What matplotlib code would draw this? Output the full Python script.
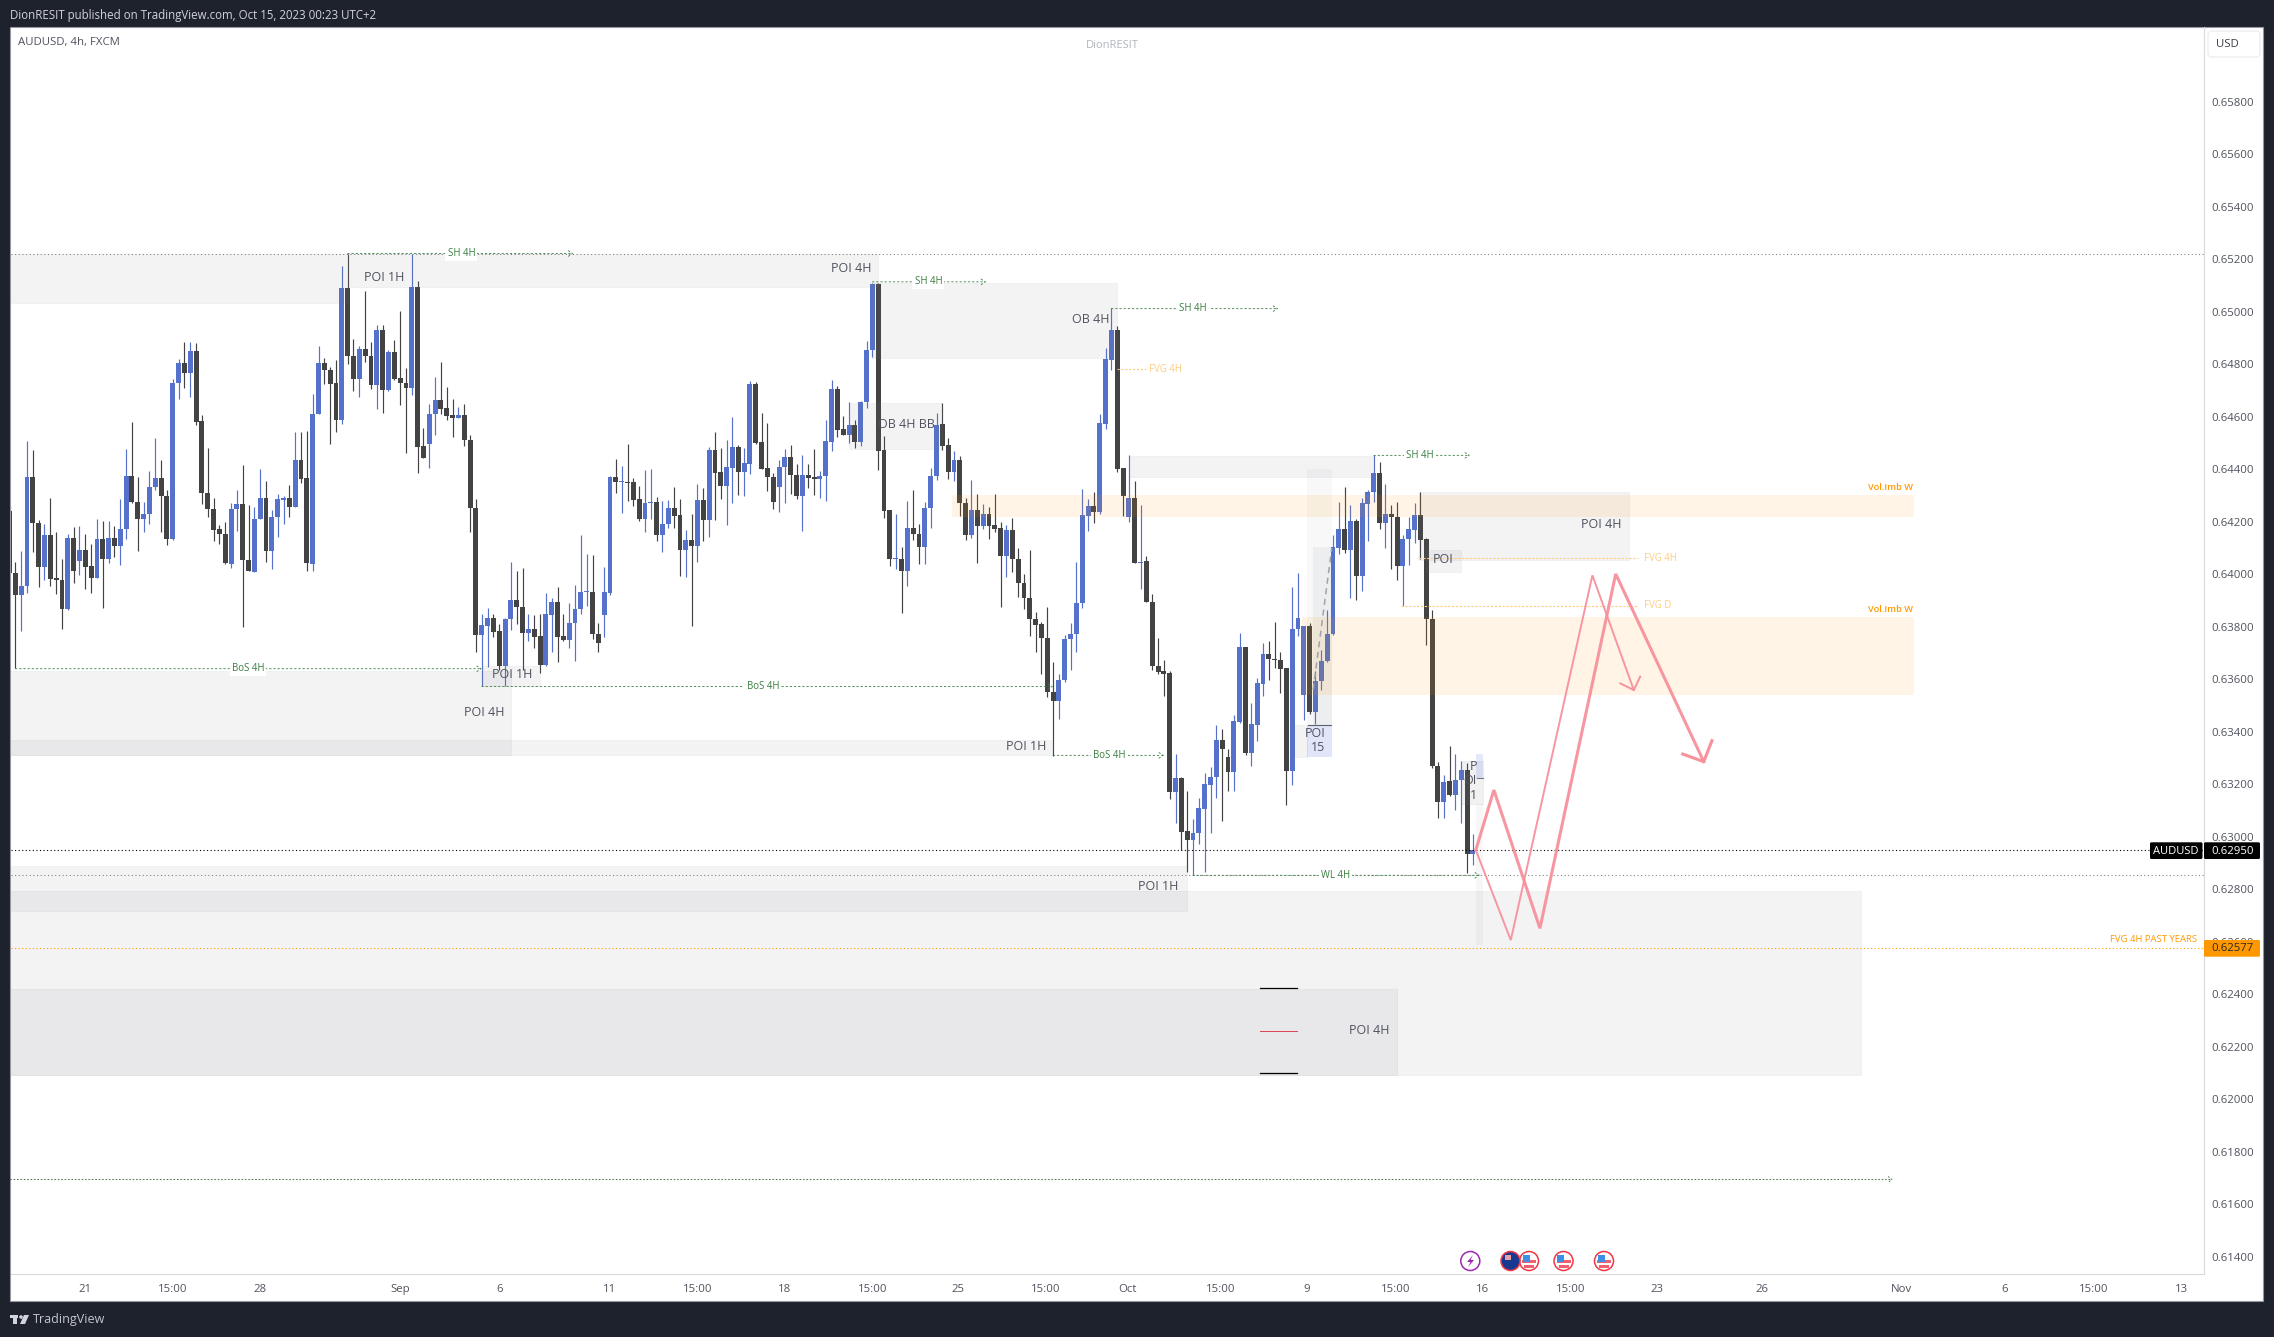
import numpy as np
import matplotlib
matplotlib.use("Agg")
import matplotlib.pyplot as plt
from matplotlib.patches import Rectangle, Circle, FancyBboxPatch, Polygon

# AUDUSD 4h candles, in points (1e-5)
opens = [
    64240, 64003, 63922, 63956, 64372, 64197, 64028, 64148, 63984, 63980,
    63868, 64140, 64051, 64094, 64030, 63986, 64136, 64059, 64140, 64108,
    64171, 64376, 64277, 64209, 64228, 64331, 64365, 64300, 64135, 64727,
    64803, 64767, 64849, 64582, 64308, 64247, 64171, 64155, 64040, 64247,
    64266, 64056, 64009, 64212, 64292, 64089, 64220, 64284, 64290, 64257,
    64437, 64365, 64040, 64611, 64803, 64780, 64727, 64588, 65089, 64833,
    64745, 64860, 64830, 64722, 64929, 64703, 64845, 64746, 64727, 64710,
    65096, 64487, 64497, 64611, 64662, 64632, 64605, 64596, 64605, 64513,
    64254, 63769, 63804, 63835, 63782, 63652, 63830, 63900, 63877, 63777,
    63793, 63763, 63655, 63845, 63896, 63763, 63750, 63815, 63866, 63933,
    63934, 63774, 63845, 63929, 64369, 64351, 64353, 64350, 64285, 64211,
    64272, 64277, 64150, 64192, 64254, 64224, 64093, 64129, 64108, 64281,
    64207, 64472, 64388, 64337, 64405, 64483, 64390, 64421, 64724, 64502,
    64403, 64372, 64333, 64407, 64445, 64380, 64299, 64380, 64369, 64362,
    64375, 64505, 64704, 64552, 64531, 64567, 64503, 64657, 64855, 65104,
    64472, 64243, 64058, 64060, 64013, 64178, 64155, 64104, 64253, 64375,
    64571, 64491, 64390, 64437, 64273, 64148, 64244, 64183, 64231, 64187,
    64176, 64070, 64169, 64059, 63965, 63911, 63828, 63809, 63759, 63550,
    63518, 63599, 63754, 63773, 63889, 64223, 64261, 64238, 64574, 64818,
    64931, 64403, 64219, 64292, 64044, 64049, 63896, 63652, 63630, 63622,
    63171, 63223, 63020, 62988, 63015, 63106, 63198, 63228, 63367, 63302,
    63247, 63438, 63721, 63320, 63426, 63583, 63696, 63679, 63675, 63641,
    63251, 63792, 63539, 63802, 63477, 63594, 63670, 63772, 64101, 64171,
    64092, 64202, 63994, 64268, 64312, 64385, 64196, 64228, 64220, 64032,
    64135, 64169, 64224, 64134, 63831, 63271, 63133, 63212, 63158, 63217,
    63256, 62935,
]
highs = [
    64259, 64045, 64087, 64507, 64473, 64206, 64193, 64290, 64160, 64058,
    64153, 64179, 64183, 64153, 64115, 64212, 64202, 64202, 64183, 64286,
    64477, 64579, 64372, 64275, 64393, 64519, 64435, 64320, 64743, 64820,
    64884, 64884, 64880, 64606, 64480, 64290, 64187, 64198, 64271, 64320,
    64416, 64263, 64256, 64400, 64355, 64244, 64305, 64298, 64339, 64541,
    64543, 64545, 64686, 64869, 64823, 64789, 64816, 65174, 65222, 64896,
    64869, 65079, 64884, 64949, 64949, 64854, 64892, 65002, 64785, 65222,
    65117, 64557, 64648, 64751, 64808, 64713, 64667, 64637, 64648, 64532,
    64286, 63850, 63873, 63850, 63810, 63835, 64046, 64012, 64023, 63850,
    63843, 63850, 63927, 63911, 63950, 63847, 63889, 63958, 64149, 64077,
    64073, 63816, 64027, 64375, 64439, 64412, 64496, 64366, 64336, 64397,
    64400, 64294, 64278, 64282, 64332, 64286, 64168, 64229, 64343, 64328,
    64484, 64541, 64480, 64511, 64599, 64491, 64480, 64736, 64732, 64614,
    64576, 64385, 64435, 64477, 64492, 64419, 64454, 64419, 64477, 64393,
    64587, 64739, 64717, 64602, 64656, 64587, 64661, 64888, 65108, 65108,
    64526, 64243, 64229, 64103, 64278, 64320, 64191, 64275, 64404, 64614,
    64652, 64519, 64469, 64450, 64289, 64360, 64304, 64267, 64256, 64306,
    64200, 64187, 64214, 64101, 64000, 64092, 63856, 63819, 63875, 63665,
    63619, 63770, 63814, 64047, 64323, 64287, 64312, 64610, 64863, 65013,
    64944, 64404, 64454, 64355, 64263, 64071, 63924, 63757, 63673, 63631,
    63315, 63226, 63174, 63067, 63147, 63243, 63265, 63425, 63410, 63336,
    63463, 63776, 63721, 63508, 63604, 63739, 63744, 63817, 63702, 63642,
    63952, 64003, 63802, 63814, 63632, 63711, 63863, 64149, 64275, 64332,
    64263, 64211, 64289, 64320, 64454, 64428, 64343, 64263, 64275, 64149,
    64218, 64270, 64312, 64138, 63863, 63283, 63235, 63345, 63315, 63287,
    63282, 63012,
]
lows = [
    64003, 63641, 63784, 63929, 64085, 63952, 63977, 63955, 63924, 63792,
    63863, 63967, 63998, 63944, 63929, 63985, 63872, 64044, 64066, 64036,
    64134, 64271, 64089, 64162, 64192, 64320, 64162, 64112, 64130, 64667,
    64709, 64676, 64568, 64267, 64219, 64127, 64116, 64038, 64023, 64164,
    63800, 64013, 64008, 64210, 64046, 64019, 64141, 64192, 64219, 64256,
    64348, 64012, 64012, 64610, 64726, 64497, 64541, 64573, 64800, 64699,
    64676, 64808, 64705, 64629, 64615, 64698, 64741, 64644, 64461, 64682,
    64385, 64442, 64404, 64530, 64610, 64587, 64522, 64595, 64488, 64160,
    63703, 63574, 63647, 63762, 63635, 63575, 63787, 63810, 63635, 63746,
    63720, 63624, 63651, 63704, 63665, 63746, 63720, 63669, 63850, 63878,
    63754, 63704, 63762, 63922, 64309, 64233, 64278, 64259, 64202, 64160,
    64210, 64127, 64084, 64176, 64176, 63993, 63989, 63802, 64046, 64126,
    64141, 64207, 64286, 64187, 64271, 64301, 64298, 64381, 64496, 64400,
    64317, 64248, 64237, 64271, 64305, 64286, 64164, 64328, 64301, 64289,
    64278, 64469, 64522, 64530, 64499, 64480, 64488, 64634, 64827, 64397,
    64214, 64031, 64019, 63852, 63955, 64130, 64038, 64038, 64176, 64358,
    64473, 64362, 64355, 64221, 64130, 64140, 64042, 64171, 64135, 64160,
    63875, 63989, 64008, 63914, 63868, 63765, 63704, 63619, 63533, 63308,
    63448, 63591, 63637, 63703, 63871, 64163, 64195, 64230, 64552, 64780,
    64389, 64221, 64198, 64042, 63943, 63894, 63635, 63619, 63537, 63143,
    63053, 62949, 62866, 62854, 62972, 62866, 63015, 63149, 63061, 63175,
    63175, 63435, 63313, 63270, 63364, 63537, 63596, 63642, 63548, 63122,
    63196, 63764, 63444, 63469, 63428, 63558, 63666, 63768, 64077, 64082,
    63909, 63901, 63936, 64126, 64276, 64173, 64099, 64019, 63977, 63878,
    64035, 64120, 64060, 63731, 63260, 63072, 63072, 63155, 63101, 63053,
    62862, 62892,
]
closes = [
    64003, 63922, 63957, 64372, 64196, 64028, 64148, 63983, 63977, 63868,
    64140, 64013, 64094, 64028, 63986, 64136, 64059, 64140, 64108, 64171,
    64376, 64275, 64209, 64228, 64331, 64365, 64300, 64135, 64727, 64803,
    64767, 64849, 64581, 64308, 64247, 64169, 64154, 64041, 64247, 64266,
    64055, 64013, 64212, 64292, 64089, 64220, 64285, 64290, 64257, 64437,
    64364, 64041, 64612, 64803, 64779, 64726, 64588, 65089, 64832, 64745,
    64860, 64830, 64722, 64929, 64703, 64845, 64745, 64727, 64710, 65096,
    64485, 64444, 64612, 64662, 64630, 64604, 64596, 64605, 64512, 64253,
    63769, 63805, 63835, 63781, 63652, 63831, 63900, 63876, 63777, 63793,
    63762, 63655, 63847, 63896, 63762, 63750, 63816, 63866, 63934, 63934,
    63773, 63739, 63931, 64369, 64352, 64353, 64348, 64282, 64211, 64273,
    64277, 64150, 64193, 64254, 64223, 64093, 64129, 64108, 64281, 64207,
    64472, 64386, 64337, 64407, 64483, 64390, 64422, 64724, 64501, 64402,
    64371, 64276, 64407, 64445, 64379, 64299, 64380, 64367, 64364, 64376,
    64506, 64704, 64549, 64531, 64567, 64503, 64658, 64856, 65104, 64470,
    64242, 64059, 64060, 64013, 64178, 64154, 64104, 64254, 64376, 64567,
    64489, 64390, 64437, 64272, 64150, 64244, 64183, 64231, 64183, 64171,
    64070, 64169, 64059, 63965, 63910, 63828, 63806, 63758, 63550, 63518,
    63599, 63754, 63774, 63889, 64225, 64261, 64238, 64576, 64820, 64931,
    64402, 64299, 64292, 64044, 64047, 63895, 63651, 63628, 63621, 63171,
    63223, 63019, 62988, 63016, 63108, 63199, 63229, 63367, 63336, 63247,
    63439, 63721, 63320, 63428, 63584, 63696, 63678, 63673, 63640, 63251,
    63793, 63835, 63801, 63477, 63595, 63671, 63774, 64102, 64171, 64092,
    64202, 63994, 64270, 64312, 64385, 64196, 64229, 64219, 64032, 64136,
    64171, 64224, 64131, 63831, 63270, 63133, 63210, 63158, 63218, 63256,
    62935, 62950,
]

price_ticks = np.arange(0.614, 0.6581, 0.002)
time_pos = [13, 28, 43, 67, 84, 103, 118, 133, 148, 162.7, 177.7, 191.7, 207.7, 222.5,
            237.7, 252.7, 267.7, 282.5, 300.5, 324.5, 342.2, 357.5, 372.5]
time_labels = ["21", "15:00", "28", "Sep", "6", "11", "15:00", "18", "15:00",
               "25", "15:00", "Oct", "15:00", "9", "15:00", "16", "15:00",
               "23", "26", "Nov", "6", "15:00", "13"]

last_price = 0.62950
fvg_price = 0.62577

plt.rcParams["font.family"] = ["Open Sans", "DejaVu Sans"]

W, H = 2274, 1337
BLUE = "#5471cb"
DARK = "#434343"
GREEN = "#3a7d40"
ORANGE = "#ff9800"
LIGHT_OR = "#ffcc80"
TXT = "#50535e"

fig = plt.figure(figsize=(W / 100, H / 100), dpi=100, facecolor="#1e222d")

# background layer in pixels: white chart card
bg = fig.add_axes([0, 0, 1, 1], zorder=0)
bg.set_xlim(0, W)
bg.set_ylim(H, 0)
bg.axis("off")
bg.add_patch(Rectangle((10, 27), 2253, 1274, fc="white", ec="#9598a1", lw=0.8))

# price pane
ax = fig.add_axes([10.5 / W, 1 - 1274 / H, (2204 - 10.5) / W, (1274 - 27) / H], zorder=1)
ax.patch.set_alpha(0)
ax.set_xlim(0.17, 376.4)
ax.set_ylim(0.61334, 0.66085)
for s in ["top", "left"]:
    ax.spines[s].set_visible(False)
ax.spines["right"].set_color("#d8d9dd")
ax.spines["bottom"].set_color("#d8d9dd")
ax.yaxis.tick_right()
ax.set_yticks(price_ticks)
ax.set_yticklabels(["%.5f" % p for p in price_ticks], fontsize=8.2, color=TXT)
ax.set_xticks(time_pos)
ax.set_xticklabels(time_labels, fontsize=8.2, color=TXT)
ax.tick_params(length=0, axis="y", pad=5)
ax.tick_params(length=0, axis="x", pad=7)

o = np.array(opens) / 1e5
h = np.array(highs) / 1e5
l = np.array(lows) / 1e5
c = np.array(closes) / 1e5
x = np.arange(len(o))
colors = [BLUE if cc >= oo else DARK for oo, cc in zip(o, c)]

# candles
ax.vlines(x, l, h, colors=colors, lw=0.85, zorder=2)
ax.bar(x, np.maximum(np.abs(c - o), 0.00003), bottom=np.minimum(o, c), width=0.84,
       color=colors, lw=0, zorder=2.1)


def zone(x0, x1, top, bottom, color="#787b86", alpha=0.088, edge=True):
    ax.add_patch(Rectangle((x0, bottom), x1 - x0, top - bottom, fc=color, alpha=alpha,
                           ec=color if edge else "none", lw=0.6, zorder=3))


# grey POI / OB boxes
zone(0, 58, 0.65222, 0.65035)
zone(58, 149, 0.65222, 0.65096)
zone(148, 190, 0.65108, 0.64825)
zone(144, 160, 0.64654, 0.64478)
zone(192, 234, 0.64452, 0.64371)
zone(241.7, 277.7, 0.64313, 0.64055)
zone(243, 249, 0.64091, 0.64007)
zone(81, 91, 0.63650, 0.63573)
zone(0, 86, 0.63632, 0.63310)
zone(0, 179, 0.63370, 0.63310)
zone(0, 202, 0.62887, 0.62718)
zone(0, 317.5, 0.62795, 0.62094)
zone(0, 238, 0.62420, 0.62094)
zone(220.1, 222.6, 0.63425, 0.63302)
zone(222.6, 226.8, 0.64400, 0.63425, alpha=0.05, edge=False)
zone(223.6, 226.8, 0.64103, 0.63425, alpha=0.08, edge=False)
zone(222.6, 226.8, 0.63425, 0.63302, color="#2f55e0", alpha=0.15, edge=False)
zone(249.0, 252.8, 0.63290, 0.63125, alpha=0.1)
zone(251.6, 252.8, 0.63125, 0.62587, alpha=0.06, edge=False)
zone(251.6, 252.8, 0.63315, 0.63222, color="#2f55e0", alpha=0.13, edge=False)

# orange imbalance boxes
zone(161.7, 326.7, 0.64301, 0.64219, color=ORANGE, alpha=0.1, edge=False)
zone(221.7, 326.7, 0.63837, 0.63540, color=ORANGE, alpha=0.1, edge=False)

# horizontal dotted levels across the pane
ax.axhline(0.65222, color="#787b86", lw=0.75, ls=(0, (1, 2.5)), zorder=2.5)
ax.axhline(0.62853, color="#787b86", lw=0.75, ls=(0, (1, 2.5)), zorder=2.5)
ax.axhline(last_price, color="black", lw=0.8, ls=(0, (1, 2.2)), zorder=4)
ax.axhline(fvg_price, color=ORANGE, lw=0.8, ls=(0, (1, 2.2)), zorder=4)
ax.annotate("", xy=(323, 0.61694), xytext=(0.17, 0.61694),
            arrowprops=dict(arrowstyle="->,head_length=0.25,head_width=0.2", color="#4b6e4b",
                            lw=0.7, ls=(0, (1, 2.5)), shrinkA=0, shrinkB=0))


def level(x0, x1, p, name, tx):
    ax.annotate("", xy=(x1, p), xytext=(x0, p), zorder=4,
                arrowprops=dict(arrowstyle="->,head_length=0.3,head_width=0.2", color=GREEN,
                                lw=0.6, ls=(0, (2, 3)), shrinkA=0, shrinkB=0))
    ax.text(tx, p, name, fontsize=6.9, color=GREEN, ha="center", va="center", zorder=5,
            bbox=dict(fc="white", ec="none", pad=1.5))


level(1, 81, 0.63640, "BoS 4H", 40.9)
level(81, 179, 0.63572, "BoS 4H", 129.2)
level(179, 198, 0.63310, "BoS 4H", 188.7)
level(58, 96.7, 0.65222, "SH 4H", 77.5)
level(148, 167.5, 0.65114, "SH 4H", 157.6)
level(189, 217.6, 0.65012, "SH 4H", 203)
level(234, 250.5, 0.64453, "SH 4H", 241.9)
level(203, 252.2, 0.62853, "WL 4H", 227.4)

# light orange FVG lines
for x0, x1, p in [(190, 195, 0.64781), (241.7, 279.3, 0.64061), (238.7, 279.3, 0.63879)]:
    ax.plot([x0, x1], [p, p], color=LIGHT_OR, lw=0.8, ls=(0, (2, 1.5)), zorder=4)
ax.text(198.2, 0.64781, "FVG 4H", fontsize=6.9, color=LIGHT_OR, ha="center", va="center")
ax.text(283.2, 0.64061, "FVG 4H", fontsize=6.9, color=LIGHT_OR, ha="center", va="center")
ax.text(282.7, 0.63881, "FVG D", fontsize=6.9, color=LIGHT_OR, ha="center", va="center")
ax.text(326.5, 0.64329, "Vol.Imb W", fontsize=6.7, color=ORANGE, ha="right", va="center", weight="semibold")
ax.text(326.5, 0.63867, "Vol.Imb W", fontsize=6.7, color=ORANGE, ha="right", va="center", weight="semibold")

# small range markers
ax.plot([214.5, 220.8], [0.62422, 0.62422], color="black", lw=0.9, zorder=5)
ax.plot([214.5, 220.8], [0.62099, 0.62099], color="black", lw=0.9, zorder=5)
ax.plot([214.5, 220.8], [0.62260, 0.62260], color="#e0404f", lw=0.7, zorder=5)
ax.plot([222.8, 226.6], [0.63427, 0.63427], color="#5d606b", lw=0.8, zorder=5)
ax.plot([251.7, 252.8], [0.63222, 0.63222], color="#787b86", lw=0.8, zorder=5)
ax.plot([223.6, 226.8], [0.63560, 0.64100], color="#a0a2a8", lw=1.1, ls=(0, (4, 3)), zorder=5)

# box labels
for tx, ty, s in [(64.3, 0.65132, "POI 1H"), (144.4, 0.65165, "POI 4H"), (185.4, 0.64972, "OB 4H"),
                  (153.8, 0.64569, "OB 4H BB"), (86.3, 0.63619, "POI 1H"), (81.5, 0.63475, "POI 4H"),
                  (174.3, 0.63342, "POI 1H"), (197.1, 0.62812, "POI 1H"), (233.2, 0.62263, "POI 4H"),
                  (273, 0.64188, "POI 4H"), (245.9, 0.64055, "POI"), (224, 0.63395, "POI"),
                  (224.5, 0.6334, "15"), (251.1, 0.63267, "P"), (250.5, 0.63213, "OI"),
                  (251.1, 0.63158, "1")]:
    ax.text(tx, ty, s, fontsize=9, color=TXT, ha="center", va="center", zorder=6)

# projected path
PINK = "#f7919c"
ax.plot([251.5, 254.6, 262.5, 275.5, 290.6], [0.62949, 0.63178, 0.62651, 0.64001, 0.63286],
        color=PINK, lw=2.2, alpha=0.95, zorder=7, solid_joinstyle="miter")
ax.plot([287, 290.6, 292], [0.63315, 0.63286, 0.63366], color=PINK, lw=2.2, zorder=7)
ax.plot([251.5, 257.5, 271.5, 278.6], [0.62949, 0.62606, 0.63996, 0.63559],
        color=PINK, lw=1.4, alpha=0.95, zorder=7, solid_joinstyle="miter")
ax.plot([276.3, 278.6, 279.7], [0.63584, 0.63559, 0.63610], color=PINK, lw=1.4, zorder=7)

# foreground layer in pixels: tags, header, icons
fg = fig.add_axes([0, 0, 1, 1], zorder=2)
fg.patch.set_alpha(0)
fg.set_xlim(0, W)
fg.set_ylim(H, 0)
fg.axis("off")

fg.text(10, 15.5, "DionRESIT published on TradingView.com, Oct 15, 2023 00:23 UTC+2",
        fontsize=8.3, color="#d1d4dc", va="center")
fg.text(18, 43, "AUDUSD, 4h, FXCM", fontsize=8.2, color="#50535e", va="center")
fg.text(1112, 45.5, "DionRESIT", fontsize=8, color="#b2b5be", ha="center", va="center")

fg.add_patch(FancyBboxPatch((2208, 31), 52, 26, boxstyle="round,pad=0,rounding_size=4",
                            fc="white", ec="#eeeff3", lw=1))
fg.text(2227.5, 44.5, "USD", fontsize=8.2, color="#3a3d46", ha="center", va="center")

# last price tags
fg.add_patch(FancyBboxPatch((2150, 842.3), 52.5, 16.7, boxstyle="round,pad=0,rounding_size=1.5", fc="black", ec="none"))
fg.add_patch(FancyBboxPatch((2204, 842.3), 56, 16.7, boxstyle="round,pad=0,rounding_size=1.5", fc="black", ec="none"))
fg.text(2176, 851, "AUDUSD", fontsize=8, color="white", ha="center", va="center")
fg.text(2232.5, 851, "%.5f" % last_price, fontsize=8.2, color="white", ha="center", va="center", weight="medium")
fg.add_patch(FancyBboxPatch((2204, 940), 56, 16.7, boxstyle="round,pad=0,rounding_size=1.5", fc=ORANGE, ec="none"))
fg.text(2232.5, 948.5, "%.5f" % fvg_price, fontsize=8.2, color="#26282f", ha="center", va="center")
fg.text(2197.5, 939, "FVG 4H PAST YEARS", fontsize=6.8, color=ORANGE, ha="right", va="center")


def us_flag(cx, cy):
    fg.add_patch(Circle((cx, cy), 9.5, fc="white", ec="#f23645", lw=1.1))
    fg.add_patch(Rectangle((cx - 7, cy - 1), 14, 3, fc="#f0616d", ec="none"))
    fg.add_patch(Rectangle((cx - 5, cy + 4), 10, 2.5, fc="#f0616d", ec="none"))
    fg.add_patch(Rectangle((cx - 6.5, cy - 6.5), 7, 7, fc="#3e8fe8", ec="none"))


fg.add_patch(Circle((1470.3, 1261), 9.5, fc="white", ec="#9c27b0", lw=1.1))
fg.add_patch(Polygon([(1473, 1255), (1467, 1262), (1470.5, 1262), (1468, 1267), (1474, 1260), (1470.5, 1260)],
                     fc="#9c27b0", ec="none"))
us_flag(1529, 1261)
fg.add_patch(Circle((1510.5, 1261), 9.5, fc="#17398f", ec="#f23645", lw=1.1))
fg.add_patch(Rectangle((1504.5, 1255), 6, 5, fc="#e8a0a8", ec="none"))
us_flag(1563.5, 1261)
us_flag(1604, 1261)

# bottom logo
fg.add_patch(Rectangle((10, 1315), 8, 3, fc="#d1d4dc", ec="none"))
fg.add_patch(Rectangle((13, 1315), 4, 9, fc="#d1d4dc", ec="none"))
fg.add_patch(Circle((21, 1317), 1.8, fc="#d1d4dc", ec="none"))
fg.add_patch(Polygon([(24, 1315), (29, 1315), (25, 1324), (20, 1324)], fc="#d1d4dc", ec="none"))
fg.text(33, 1320, "TradingView", fontsize=9, color="#c4c7cf", va="center")

fig.savefig("out.png", dpi=100, facecolor=fig.get_facecolor())
